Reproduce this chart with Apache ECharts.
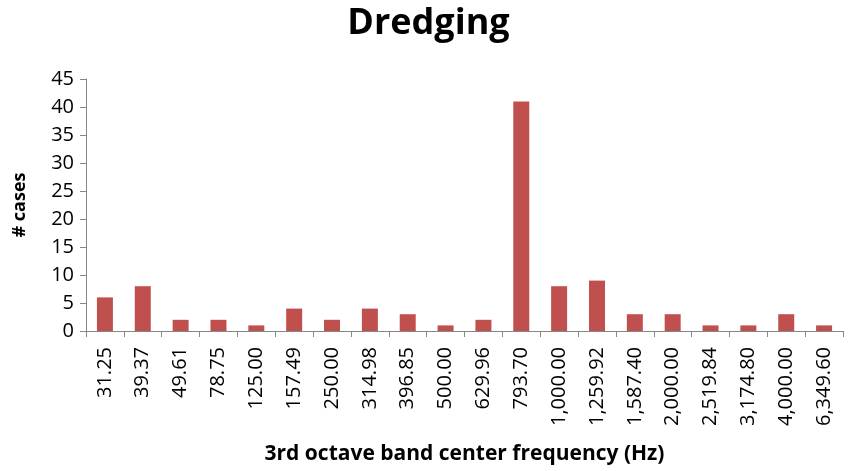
<!DOCTYPE html>
<html>
<head>
<meta charset="utf-8">
<script src="https://cdn.jsdelivr.net/npm/echarts@6/dist/echarts.min.js"></script>
<style>
  html, body { margin: 0; padding: 0; background: #fff; }
  #chart { width: 857px; height: 471px; }
</style>
</head>
<body>
<div id="chart"></div>
<script>
// Third-octave band centre frequencies (Hz) and number of cases per band
const bandLabels = ['31.25', '39.37', '49.61', '78.75', '125.00', '157.49', '250.00', '314.98',
  '396.85', '500.00', '629.96', '793.70', '1,000.00', '1,259.92', '1,587.40', '2,000.00',
  '2,519.84', '3,174.80', '4,000.00', '6,349.60'];
const caseCounts = [6, 8, 2, 2, 1, 4, 2, 4, 3, 1, 2, 41, 8, 9, 3, 3, 1, 1, 3, 1];
const yTicks = { min: 0, max: 45, interval: 5 };

const fontFamily = '"Open Sans", "Liberation Sans", sans-serif';
const axisGray = '#868686';

const chart = echarts.init(document.getElementById('chart'), null, { renderer: 'canvas' });
chart.setOption({
  animation: false,
  title: {
    text: 'Dredging',
    left: 'center',
    top: 1,
    textStyle: { fontFamily, fontSize: 36, fontWeight: 'bold', color: '#000' }
  },
  grid: { left: 86, right: 14, top: 79, bottom: 140, containLabel: false },
  xAxis: {
    type: 'category',
    data: bandLabels,
    name: '3rd octave band center frequency (Hz)',
    nameLocation: 'middle',
    nameGap: 113,
    nameTextStyle: { fontFamily, fontSize: 21, fontWeight: 'bold', color: '#000' },
    axisLine: { lineStyle: { color: axisGray, width: 1 } },
    axisTick: { show: true, alignWithLabel: false, length: 6, lineStyle: { color: axisGray } },
    axisLabel: { rotate: 90, interval: 0, margin: 16, fontFamily, fontSize: 20, color: '#000' }
  },
  yAxis: {
    type: 'value',
    min: yTicks.min,
    max: yTicks.max,
    interval: yTicks.interval,
    name: '# cases',
    nameLocation: 'middle',
    nameGap: 57,
    nameRotate: 90,
    nameTextStyle: { fontFamily, fontSize: 18, fontWeight: 'bold', color: '#000' },
    axisLine: { show: true, lineStyle: { color: axisGray, width: 1 } },
    axisTick: { show: true, length: 6, lineStyle: { color: axisGray } },
    splitLine: { show: false },
    axisLabel: { margin: 12, fontFamily, fontSize: 20, color: '#000' }
  },
  series: [{
    type: 'bar',
    data: caseCounts,
    barWidth: 16,
    itemStyle: { color: '#C0504D' }
  }]
});
</script>
</body>
</html>
